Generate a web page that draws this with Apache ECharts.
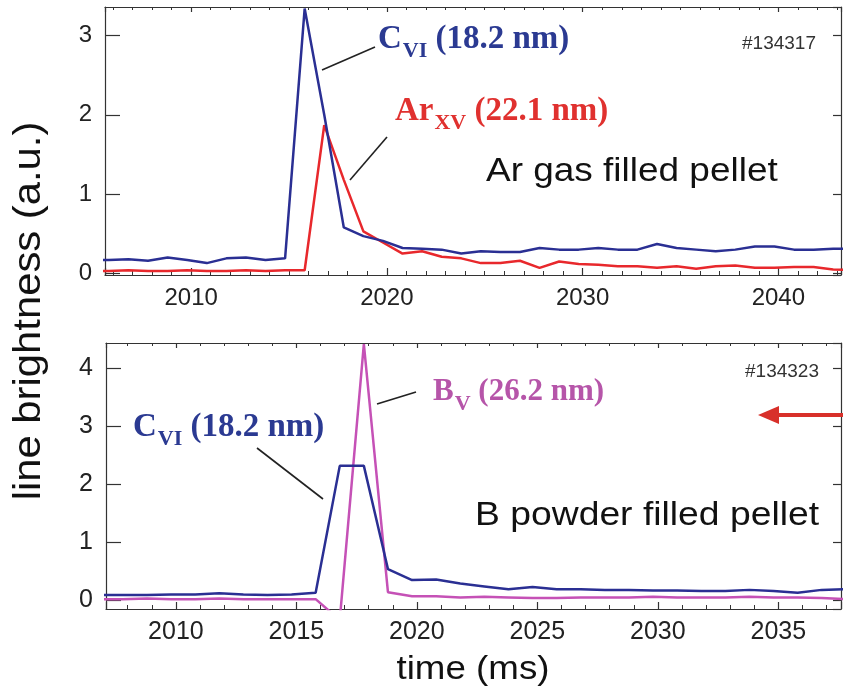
<!DOCTYPE html>
<html><head><meta charset="utf-8">
<script src="https://cdn.jsdelivr.net/npm/echarts@6/dist/echarts.min.js"></script>
<style>html,body{margin:0;padding:0;background:#fff}#c{width:843px;height:693px}</style>
</head><body><div id="c"></div>
<script>
// ---- data: top panel (#134317, Ar gas filled pellet) ----
const timeTop = [2004.8,2005.8,2006.8,2007.8,2008.8,2009.8,2010.8,2011.8,2012.8,2013.8,
  2014.8,2015.8,2016.8,2017.8,2018.8,2019.8,2020.8,2021.8,2022.8,2023.8,
  2024.8,2025.8,2026.8,2027.8,2028.8,2029.8,2030.8,2031.8,2032.8,2033.8,
  2034.8,2035.8,2036.8,2037.8,2038.8,2039.8,2040.8,2041.8,2042.8,2043.8];
const cviTop = [0.17,0.17,0.18,0.16,0.20,0.17,0.13,0.19,0.20,0.17,
  0.19,3.34,2.00,0.58,0.47,0.41,0.32,0.31,0.30,0.25,
  0.28,0.27,0.27,0.32,0.30,0.30,0.32,0.30,0.30,0.37,
  0.32,0.30,0.28,0.30,0.34,0.34,0.30,0.30,0.31,0.31];
const arxvTop = [0.03,0.03,0.04,0.03,0.03,0.04,0.03,0.03,0.04,0.03,
  0.04,0.04,1.87,1.18,0.53,0.39,0.25,0.28,0.21,0.19,
  0.13,0.13,0.16,0.07,0.15,0.12,0.11,0.09,0.09,0.07,
  0.09,0.06,0.09,0.10,0.07,0.07,0.08,0.08,0.05,0.04];
// ---- data: bottom panel (#134323, B powder filled pellet) ----
const timeBottom = [2006.8,2007.8,2008.8,2009.8,2010.8,2011.8,2012.8,2013.8,2014.8,2015.8,
  2016.8,2017.8,2018.8,2019.8,2020.8,2021.8,2022.8,2023.8,2024.8,2025.8,
  2026.8,2027.8,2028.8,2029.8,2030.8,2031.8,2032.8,2033.8,2034.8,2035.8,
  2036.8,2037.8,2038.8];
const cviBottom = [0.09,0.09,0.09,0.10,0.10,0.12,0.10,0.09,0.10,0.13,
  2.32,2.32,0.54,0.35,0.36,0.29,0.24,0.19,0.23,0.19,
  0.19,0.18,0.18,0.17,0.17,0.16,0.16,0.18,0.16,0.13,
  0.18,0.19,0.20];
const bvBottom = [0.02,0.02,0.03,0.02,0.02,0.03,0.02,0.02,0.02,0.02,
  -0.34,4.42,0.14,0.07,0.07,0.05,0.06,0.05,0.04,0.04,
  0.05,0.05,0.05,0.06,0.05,0.05,0.05,0.06,0.05,0.05,
  0.04,0.02,-0.03];
// ---- texts ----
const yTitle = 'line brightness (a.u.)';
const xTitle = 'time (ms)';
const shotTop = '#134317', shotBottom = '#134323';
const descTop = 'Ar gas filled pellet', descBottom = 'B powder filled pellet';

const BLUE = '#2a2f93', RED = '#e8282c', MAG = '#c551b6';
const AX = '#333';

function pairs(t, v){ return t.map((x,i)=>[x, v[i]]); }

function xAxes(grid, min, max, split, minorSplit, fs){
  const base = {type:'value', gridIndex:grid, min:min, max:max, splitNumber:split,
    axisLine:{show:true, onZero:false, lineStyle:{color:AX, width:1.2}},
    axisTick:{show:true, inside:true, length:7, lineStyle:{color:AX, width:1.2}},
    minorTick:{show:true, splitNumber:minorSplit, length:4, lineStyle:{color:AX, width:1}},
    splitLine:{show:false}, minorSplitLine:{show:false}};
  return [
    Object.assign({}, base, {position:'bottom',
      axisLabel:{show:true, fontSize:fs, color:'#222', margin:11, fontFamily:'Liberation Sans',
        showMinLabel:false, showMaxLabel:false, formatter:v=>String(v)}}),
    Object.assign({}, base, {position:'top', axisLabel:{show:false},
      axisTick:{show:true, inside:true, length:5, lineStyle:{color:AX, width:1.2}},
      minorTick:{show:true, splitNumber:minorSplit, length:3, lineStyle:{color:AX, width:1}}})
  ];
}
function yAxes(grid, min, max, split, fs){
  const base = {type:'value', gridIndex:grid, min:min, max:max, splitNumber:split,
    axisLine:{show:true, onZero:false, lineStyle:{color:AX, width:1.2}},
    splitLine:{show:false}, minorTick:{show:false}};
  return [
    Object.assign({}, base, {position:'left',
      axisTick:{show:true, inside:true, length:15, lineStyle:{color:AX, width:1.2}},
      axisLabel:{show:true, fontSize:fs, color:'#222', margin:13, fontFamily:'Liberation Sans',
        showMinLabel:false, showMaxLabel:false, formatter:v=>String(v)}}),
    Object.assign({}, base, {position:'right',
      axisTick:{show:true, inside:true, length:8, lineStyle:{color:AX, width:1.2}},
      axisLabel:{show:false}})
  ];
}

function richLabel(main, sub, rest, color, x, y, fs){
  return {type:'text', x:x, y:y, z:10, style:{
    text:'{m|'+main+'}{s|'+sub+'}{m| '+rest+'}',
    fill:color, align:'left', verticalAlign:'top',
    rich:{
      m:{fontSize:fs, fontWeight:'bold', fontFamily:'Liberation Serif', lineHeight:36, verticalAlign:'top', fill:color},
      s:{fontSize:22, fontWeight:'bold', fontFamily:'Liberation Serif', lineHeight:22, padding:[17,0,0,1], verticalAlign:'top', fill:color}
    }}};
}
function leader(x1,y1,x2,y2){
  return {type:'line', z:10, shape:{x1:x1,y1:y1,x2:x2,y2:y2}, style:{stroke:'#222', lineWidth:1.6}};
}

const chart = echarts.init(document.getElementById('c'), null, {renderer:'canvas'});
chart.setOption({
  animation:false,
  backgroundColor:'#fff',
  grid:[
    {left:105, top:7, width:736, height:268},
    {left:106, top:343, width:735, height:266}
  ],
  xAxis:[].concat(xAxes(0, 2005.6, 2043.2, 4, 10, 24), xAxes(1, 2007.1, 2037.6, 6, 5, 25)),
  yAxis:[].concat(yAxes(0, -0.02, 3.36, 4, 24), yAxes(1, -0.15, 4.44, 5, 25)),
  series:[
    {type:'line', xAxisIndex:0, yAxisIndex:0, data:pairs(timeTop, arxvTop), symbol:'none', clip:true,
      lineStyle:{color:RED, width:2.5}, z:3},
    {type:'line', xAxisIndex:0, yAxisIndex:0, data:pairs(timeTop, cviTop), symbol:'none', clip:true,
      lineStyle:{color:BLUE, width:2.5}, z:4},
    {type:'line', xAxisIndex:2, yAxisIndex:2, data:pairs(timeBottom, bvBottom), symbol:'none', clip:true,
      lineStyle:{color:MAG, width:2.5}, z:3},
    {type:'line', xAxisIndex:2, yAxisIndex:2, data:pairs(timeBottom, cviBottom), symbol:'none', clip:true,
      lineStyle:{color:BLUE, width:2.5}, z:4}
  ],
  graphic:{elements:[
    {type:'text', x:30, y:311, rotation:Math.PI/2, scaleX:1.1, style:{text:yTitle, fontSize:38, fontFamily:'Liberation Sans', fill:'#111', align:'center', verticalAlign:'middle'}},
    {type:'text', x:473, y:670, scaleX:1.08, style:{text:xTitle, fontSize:34, fontFamily:'Liberation Sans', fill:'#111', align:'center', verticalAlign:'middle'}},
    {type:'text', x:742, y:44, style:{text:shotTop, fontSize:19, fontFamily:'Liberation Sans', fill:'#333', align:'left', verticalAlign:'middle'}},
    {type:'text', x:745, y:372, style:{text:shotBottom, fontSize:19, fontFamily:'Liberation Sans', fill:'#333', align:'left', verticalAlign:'middle'}},
    {type:'text', x:486, y:172, scaleX:1.12, style:{text:descTop, fontSize:33, fontFamily:'Liberation Sans', fill:'#111', align:'left', verticalAlign:'middle'}},
    {type:'text', x:475, y:516, scaleX:1.13, style:{text:descBottom, fontSize:33, fontFamily:'Liberation Sans', fill:'#111', align:'left', verticalAlign:'middle'}},
    richLabel('C','VI','(18.2 nm)', '#2b3a92', 378, 23, 33),
    richLabel('Ar','XV','(22.1 nm)', '#e0312f', 395, 95, 33),
    richLabel('C','VI','(18.2 nm)', '#2b3a92', 133, 411, 33),
    richLabel('B','V','(26.2 nm)', '#b655a9', 433, 376, 31),
    leader(322,70,375,47),
    leader(350,180,387,137),
    leader(257,448,323,499),
    leader(377,404,416,392),
    {type:'line', z:10, shape:{x1:775,y1:415,x2:843,y2:415}, style:{stroke:'#d8302a', lineWidth:4}},
    {type:'polygon', z:10, shape:{points:[[758,415],[779,406],[779,424]]}, style:{fill:'#d8302a'}}
  ]}
});
</script></body></html>
